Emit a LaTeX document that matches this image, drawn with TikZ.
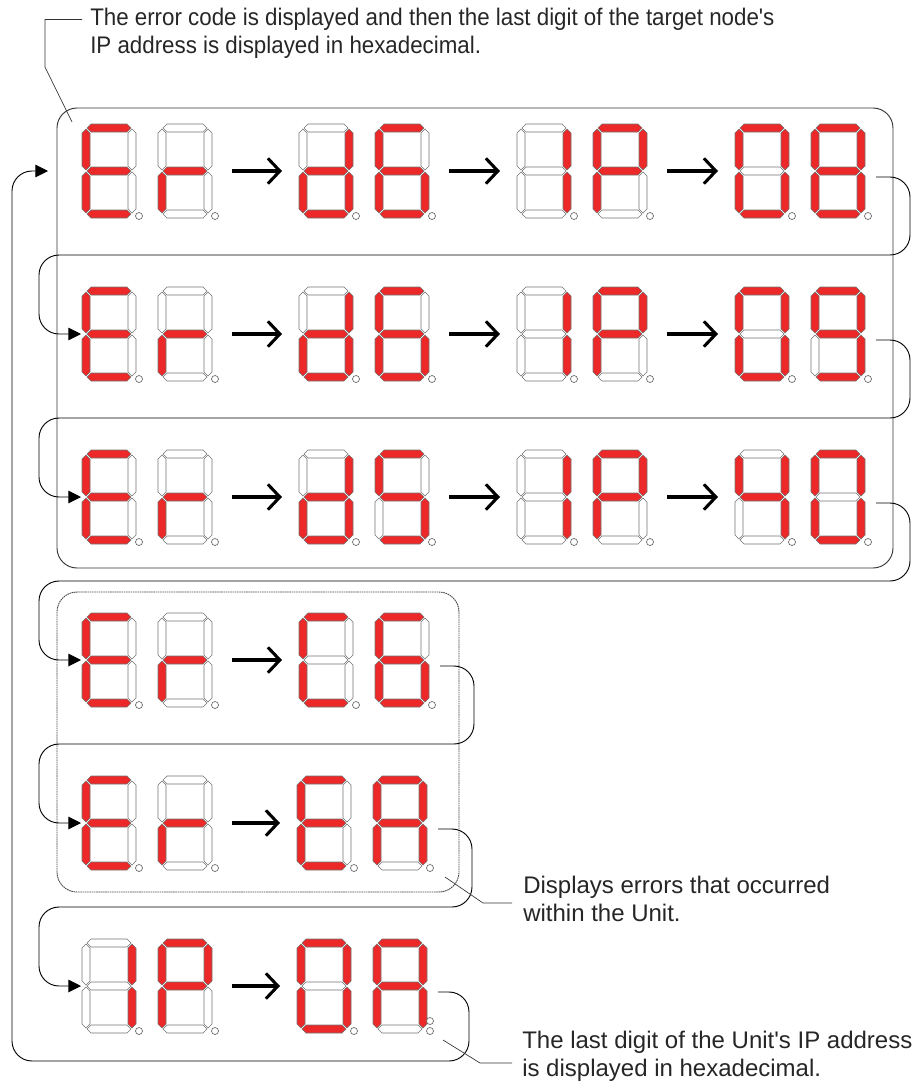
\documentclass[tikz,border=0pt]{standalone}
\usepackage{fontspec}
\setmainfont{Liberation Sans}[Ligatures=TeXOff]
\newfontfamily\narrowsans{Liberation Sans}[FakeStretch=0.93, Ligatures=TeXOff]
\usetikzlibrary{arrows.meta, calc}
\definecolor{segred}{RGB}{237,40,40}

% segment outlines, in px of the reference
\def\hseg{(5,4) -- (9,0) -- (45,0) -- (49,4) -- (45,8) -- (9,8) -- cycle}
\def\vseg{(4,5) -- (8,9) -- (8,42) -- (4,46) -- (0,42) -- (0,9) -- cycle}

% glyphs, segments a b c d e f g
\def\glyphE{1,0,0,1,1,1,1}
\def\glyphR{0,0,0,0,1,0,1}
\def\glyphD{0,1,1,1,1,0,1}
\def\glyphSix{1,0,1,1,1,1,1}
\def\glyphFive{1,0,1,1,0,1,1}
\def\glyphOne{0,1,1,0,0,0,0}
\def\glyphP{1,1,0,0,1,1,1}
\def\glyphZero{1,1,1,1,1,1,0}
\def\glyphEight{1,1,1,1,1,1,1}
\def\glyphNine{1,1,1,1,0,1,1}
\def\glyphFour{0,1,1,0,0,1,1}
\def\glyphC{1,0,0,1,1,1,0}
\def\glyphA{1,1,1,0,1,1,1}

\newcommand{\sevenseg}[3]{%
  \begin{scope}[shift={#2}]
    \coordinate (#1) at (0,0);
    \coordinate (#1-l) at (-17,47);
    \coordinate (#1-r) at (74,47);
    \coordinate (#1-in) at (-1,47);
    \coordinate (#1-out) at (65,53);
    \edef\seglist{#3}%
    \foreach \on [count=\k] in \seglist {
      \ifnum\on=1 \def\segfill{segred}\else\def\segfill{white}\fi
      \ifcase\k\or
        \path[seg, fill=\segfill] \hseg;% a
      \or
        \path[seg, fill=\segfill, shift={(46,0)}] \vseg;% b
      \or
        \path[seg, fill=\segfill, shift={(46,43)}] \vseg;% c
      \or
        \path[seg, fill=\segfill, shift={(0,86)}] \hseg;% d
      \or
        \path[seg, fill=\segfill, shift={(0,43)}] \vseg;% e
      \or
        \path[seg, fill=\segfill] \vseg;% f
      \or
        \path[seg, fill=\segfill, shift={(0,43)}] \hseg;% g
      \fi
    }
    \path[dp] (57,92) circle[radius=3.5];
  \end{scope}}

\begin{document}
\begin{tikzpicture}[
  x=0.75pt, y=-0.75pt,
  seg/.style={draw=black!55, line width=0.5pt},
  dp/.style={draw=black!60, fill=white, line width=0.5pt},
  frame/.style={draw=black!80, line width=0.7pt, rounded corners=15pt},
  link/.style={line width=0.7pt, rounded corners=15pt, -{Triangle[length=9.5pt, width=9.5pt]}},
  flow/.style={line width=2.3pt, -{Straight Barb[length=9pt, width=19pt]}},
  lead/.style={line width=0.5pt, draw=black!80},
  note/.style={anchor=north west, inner sep=0pt, align=left, text=black!85, font=\fontsize{18}{21.5}\selectfont}
]
  \useasboundingbox (0,0) rectangle (917,1086);

  \draw[frame] (57,108) rectangle (893,568);
  \draw[frame, draw=black!70, dash pattern=on 1.2pt off 0.5pt] (57,592) rectangle (459,892);

  % error code prefix
  \foreach \row/\y in {1/124, 2/287, 3/450, 4/613, 5/776} {
    \sevenseg{r\row d1}{(82,\y)}{\glyphE}
    \sevenseg{r\row d2}{(158,\y)}{\glyphR}
  }

  \foreach \row/\y/\ga/\gb/\gc/\gd in {1/124/\glyphD/\glyphSix/\glyphZero/\glyphEight,
      2/287/\glyphD/\glyphSix/\glyphZero/\glyphNine, 3/450/\glyphD/\glyphFive/\glyphFour/\glyphZero} {
    \sevenseg{r\row d3}{(299,\y)}{\ga}
    \sevenseg{r\row d4}{(375,\y)}{\gb}
    \sevenseg{r\row d5}{(517,\y)}{\glyphOne}
    \sevenseg{r\row d6}{(593,\y)}{\glyphP}
    \sevenseg{r\row d7}{(735,\y)}{\gc}
    \sevenseg{r\row d8}{(811,\y)}{\gd}
    \draw[flow] (r\row d2-r) -- (r\row d3-l);
    \draw[flow] (r\row d4-r) -- (r\row d5-l);
    \draw[flow] (r\row d6-r) -- (r\row d7-l);
  }

  \sevenseg{r4d3}{(299,613)}{\glyphC}
  \sevenseg{r4d4}{(375,613)}{\glyphSix}
  \sevenseg{r5d3}{(297,776)}{\glyphE}
  \sevenseg{r5d4}{(373,776)}{\glyphA}
  \sevenseg{r6d1}{(82,939)}{\glyphOne}
  \sevenseg{r6d2}{(158,939)}{\glyphP}
  \sevenseg{r6d3}{(297,939)}{\glyphZero}
  \sevenseg{r6d4}{(373,939)}{\glyphA}
  \path[dp] ($(r6d4)+(57,82)$) circle[radius=3.5];

  \foreach \row in {4,5,6}
    \draw[flow] (r\row d2-r) -- (r\row d3-l);

  % row to row
  \draw[link] (r1d8-out) -| (910,255) -- (39,255) |- (r2d1-in);
  \draw[link] (r2d8-out) -| (910,418) -- (39,418) |- (r3d1-in);
  \draw[link] (r3d8-out) -| (910,581) -- (39,581) |- (r4d1-in);
  \draw[link] (r4d4-out) -| (474,744) -- (39,744) |- (r5d1-in);
  \draw[link] (r5d4-out) -| (472,907) -- (39,907) |- (r6d1-in);
  \draw[link] (r6d4-out) -| (469,1061) -- (12,1061) |- ($(r1d1-in)+(-33,0)$);

  % notes
  \node[note, font={\narrowsans\fontsize{18}{21}\selectfont}] (topnote) at (90,7.5)
    {The error code is displayed and then the last digit of the target node's\\IP address is displayed in hexadecimal.};
  \node[note] (unitnote) at (523,875.5) {Displays errors that occurred\\within the Unit.};
  \node[note] (ipnote) at (522,1030.5) {The last digit of the Unit's IP address\\is displayed in hexadecimal.};

  \coordinate (tip1) at (72,122);
  \coordinate (tip2) at (445,877);
  \coordinate (tip3) at (443,1040);
  \draw[lead] (topnote.north west) ++(-8,12) -- (45,19.5) -- (45,67) -- (tip1);
  \draw[lead] (tip2) -- (483,903) -- (512,903);
  \draw[lead] (tip3) -- (480,1063) -- (512,1063);
\end{tikzpicture}
\end{document}
